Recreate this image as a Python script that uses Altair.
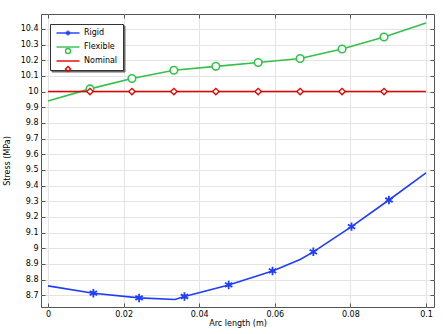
import altair as alt
import pandas as pd

series_names = ["Rigid", "Flexible", "Nominal"]
series_colors = ["#1f3dff", "#33c14a", "#e30000"]

# curve points (line)
rigid_line_x = [0.0, 0.012, 0.0241, 0.0336, 0.0361, 0.0478, 0.0594, 0.0667, 0.0702, 0.0803, 0.0902, 0.1]
rigid_line_y = [8.760, 8.713, 8.683, 8.673, 8.692, 8.766, 8.855, 8.928, 8.977, 9.138, 9.308, 9.481]
flex_line_x = [0.0, 0.0111, 0.0222, 0.0333, 0.0444, 0.0556, 0.0667, 0.0778, 0.0889, 0.1]
flex_line_y = [9.940, 10.017, 10.083, 10.136, 10.161, 10.185, 10.211, 10.272, 10.348, 10.438]
nom_line_x = [0.0, 0.1]
nom_line_y = [10.0, 10.0]

# marker points
rigid_mark_x = [0.012, 0.0241, 0.0361, 0.0478, 0.0594, 0.0702, 0.0803, 0.0902]
rigid_mark_y = [8.713, 8.683, 8.692, 8.766, 8.855, 8.977, 9.138, 9.308]
flex_mark_x = [0.0111, 0.0222, 0.0333, 0.0444, 0.0556, 0.0667, 0.0778, 0.0889]
flex_mark_y = [10.017, 10.083, 10.136, 10.161, 10.185, 10.211, 10.272, 10.348]
nom_mark_x = [0.0111, 0.0222, 0.0333, 0.0444, 0.0556, 0.0667, 0.0778, 0.0889]
nom_mark_y = [10.0, 10.0, 10.0, 10.0, 10.0, 10.0, 10.0, 10.0]

x_ticks = [0, 0.02, 0.04, 0.06, 0.08, 0.1]
y_ticks = [8.7, 8.8, 8.9, 9.0, 9.1, 9.2, 9.3, 9.4, 9.5, 9.6, 9.7, 9.8, 9.9,
           10.0, 10.1, 10.2, 10.3, 10.4]
x_domain = [-0.00185, 0.10212]
y_domain = [8.625, 10.495]

x_title = "Arc length (m)"
y_title = "Stress (MPa)"

FONT = "DejaVu Sans"

# marker-legend keys (separate legend overlaid on the line legend)
marker_keys = [s + " " for s in series_names]
shadow_keys = [s + "  " for s in series_names]

line_rows = []
for name, xs_, ys_ in [("Rigid", rigid_line_x, rigid_line_y),
                       ("Flexible", flex_line_x, flex_line_y),
                       ("Nominal", nom_line_x, nom_line_y)]:
    for i, (a, b) in enumerate(zip(xs_, ys_)):
        line_rows.append({"series": name, "sh": name + "  ", "x": a, "y": b, "order": i})
line_df = pd.DataFrame(line_rows)

mark_rows = []
for name, xs_, ys_ in [("Rigid", rigid_mark_x, rigid_mark_y),
                       ("Flexible", flex_mark_x, flex_mark_y),
                       ("Nominal", nom_mark_x, nom_mark_y)]:
    for a, b in zip(xs_, ys_):
        mark_rows.append({"series": name, "mk": name + " ", "x": a, "y": b})
mark_df = pd.DataFrame(mark_rows)

asterisk = "M0,-1V1M-0.87,-0.5L0.87,0.5M-0.87,0.5L0.87,-0.5"
circle = "M1,0A1,1 0 1 1 -1,0A1,1 0 1 1 1,0Z"
diamond = "M-1,0L0,-1L1,0L0,1Z"

xs = alt.Scale(domain=x_domain, nice=False, zero=False)
ys = alt.Scale(domain=y_domain, nice=False, zero=False)

LEG_X, LEG_Y = 9, 10


def leg_common(dx=0, dy=0):
    return dict(title=None, orient="none", legendX=LEG_X + dx, legendY=LEG_Y + dy, padding=5,
                symbolSize=25, symbolStrokeWidth=1.4, symbolOffset=9, labelOffset=12,
                rowPadding=6, labelFont=FONT, labelFontSize=8)


line_legend = alt.Legend(strokeColor="#333333", fillColor="white", labelColor="#000000",
                         symbolType="M-4.6,0H4.6", zindex=1, **leg_common())
marker_legend = alt.Legend(labelColor="transparent", symbolFillColor="white",
                           zindex=2, **leg_common())
shadow_legend = alt.Legend(labelColor="transparent", strokeColor="#6a6a6a", fillColor="#6a6a6a",
                           symbolOpacity=0, zindex=0, **leg_common(1.5, 1.5))

main_axis_common = dict(grid=True, gridColor="#e4e4e4", ticks=False, domain=False,
                        labelFont=FONT, labelFontSize=8, labelColor="#000000",
                        titleFont=FONT, titleFontSize=8, titleFontWeight="normal",
                        titleColor="#000000", format="~g")

lines = alt.Chart(line_df).mark_line(strokeWidth=1.6).encode(
    x=alt.X("x:Q", scale=xs, axis=alt.Axis(values=x_ticks, title=x_title, labelPadding=3,
                                            titlePadding=1, **main_axis_common)),
    y=alt.Y("y:Q", scale=ys, axis=alt.Axis(values=y_ticks, title=y_title, labelPadding=3,
                                            titlePadding=9, **main_axis_common)),
    color=alt.Color("series:N", scale=alt.Scale(domain=series_names, range=series_colors),
                    legend=line_legend),
    order="order:Q",
)

tick_axis = dict(grid=False, labels=False, domain=False, ticks=True, tickSize=4,
                 tickColor="#555555", tickWidth=1, offset=-4, title=None)

points = alt.Chart(mark_df).mark_point(filled=False, fill="white", opacity=1).encode(
    x=alt.X("x:Q", scale=xs, axis=alt.Axis(values=x_ticks, orient="bottom", **tick_axis)),
    y=alt.Y("y:Q", scale=ys, axis=alt.Axis(values=y_ticks, orient="left", **tick_axis)),
    color=alt.Color("mk:N", scale=alt.Scale(domain=marker_keys, range=series_colors),
                    legend=marker_legend),
    shape=alt.Shape("mk:N", scale=alt.Scale(domain=marker_keys,
                                            range=[asterisk, circle, diamond]),
                    legend=marker_legend),
    size=alt.Size("series:N", scale=alt.Scale(domain=series_names, range=[72, 42, 26]), legend=None),
    strokeWidth=alt.StrokeWidth("series:N", scale=alt.Scale(domain=series_names,
                                                            range=[1.8, 1.3, 1.3]), legend=None),
)

frame_ticks = alt.Chart(line_df).mark_line(opacity=0).encode(
    x=alt.X("x:Q", scale=xs, axis=alt.Axis(values=x_ticks, orient="top", **tick_axis)),
    y=alt.Y("y:Q", scale=ys, axis=alt.Axis(values=y_ticks, orient="right", **tick_axis)),
    color=alt.Color("sh:N", scale=alt.Scale(domain=shadow_keys, range=series_colors),
                    legend=shadow_legend),
)

chart = alt.layer(frame_ticks, lines, points).resolve_scale(
    x="independent", y="independent", color="independent",
    shape="independent", size="independent", strokeWidth="independent"
).properties(
    width=393, height=293,
    autosize=alt.AutoSizeParams(type="none"),
    padding={"left": 41, "top": 14, "right": 9, "bottom": 27},
    background="white",
).configure_view(stroke="#555555", strokeWidth=1)

chart.save("out.html", embed_options={"renderer": "svg", "actions": False})
